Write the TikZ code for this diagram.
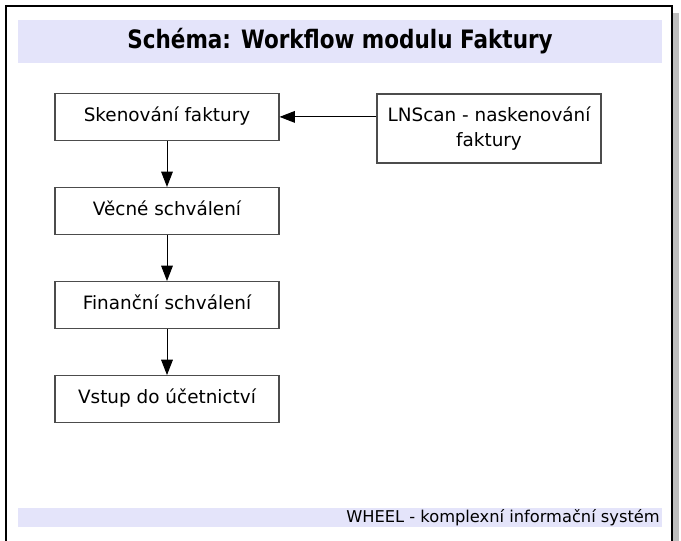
\documentclass[tikz,border=0pt]{standalone}
\usepackage{fontspec}
\setmainfont{DejaVu Sans}
\newfontfamily\nadpisfont[FakeStretch=0.85]{DejaVu Sans}
\usetikzlibrary{matrix,arrows.meta}
\definecolor{lavendulova}{RGB}{228,228,250}

\begin{document}
\begin{tikzpicture}[x=0.75pt,y=-0.75pt,
		krok/.style={draw=black!70, line width=0.8pt, minimum width=168pt, minimum height=35.25pt,
			inner sep=0pt, font=\fontsize{13.8}{18.75}\selectfont},
		tok/.style={-{Triangle[length=11.5pt,width=8.75pt]}, line width=0.75pt}]
		\useasboundingbox (0,0) rectangle (681,541);
		% ramecek se stinem
		\fill[black!25] (673,13) rectangle (679,541);
		\draw[line width=1pt] (6,545) -- (6,6) -- (672,6) -- (672,545);
		% nadpis a pata
		\fill[lavendulova] (18,20) rectangle (662,63);
		\node[font=\nadpisfont\fontsize{19}{22}\selectfont\bfseries] (nadpis) at (340,41.5) {Schéma: Workflow modulu Faktury};
		\fill[lavendulova] (18,508) rectangle (662,527);
		\node[anchor=east, inner sep=0pt, font=\fontsize{12.2}{14}\selectfont] (pata) at (660,517.5) {WHEEL - komplexní informační systém};
		\matrix (b) [matrix of nodes, nodes={krok, text height=10pt, text depth=3pt}, row sep=34.5pt] at (167,258)
		{
			Skenování faktury   \\
			Věcné schválení     \\
			Finanční schválení  \\
			Vstup do účetnictví \\
		};
		\node[krok, minimum height=51.75pt, align=center] (lnscan) at (489,128.5) {LNScan - naskenování\\faktury};
		\path[tok]
		(b-1-1) edge (b-2-1)
		(b-2-1) edge (b-3-1)
		(b-3-1) edge (b-4-1)
		(lnscan.west |- b-1-1.east) edge (b-1-1.east);
	\end{tikzpicture}
\end{document}
